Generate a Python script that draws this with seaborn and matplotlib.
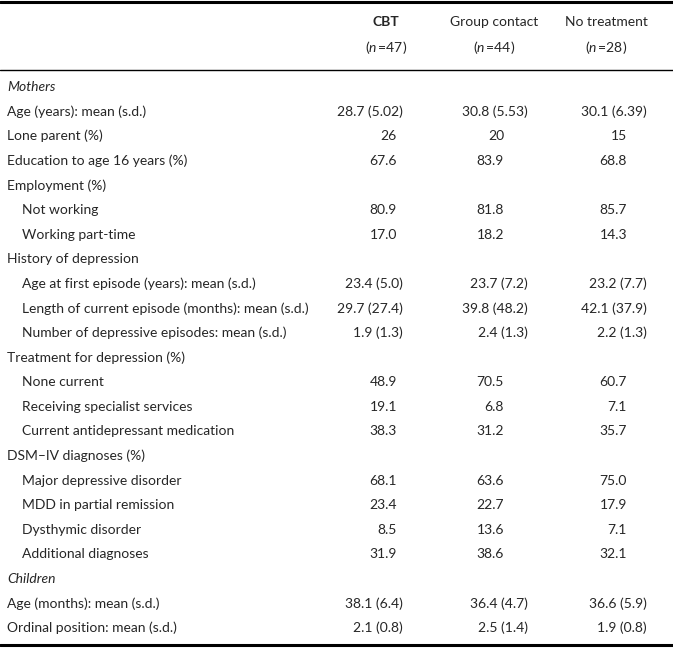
import matplotlib
matplotlib.use("Agg")
import matplotlib.pyplot as plt
import seaborn as sns

# table content
groups = ["CBT", "Group contact", "No treatment"]
group_n = ["47", "44", "28"]

row_labels = [
    "Mothers",
    "Age (years): mean (s.d.)",
    "Lone parent (%)",
    "Education to age 16 years (%)",
    "Employment (%)",
    "Not working",
    "Working part-time",
    "History of depression",
    "Age at first episode (years): mean (s.d.)",
    "Length of current episode (months): mean (s.d.)",
    "Number of depressive episodes: mean (s.d.)",
    "Treatment for depression (%)",
    "None current",
    "Receiving specialist services",
    "Current antidepressant medication",
    "DSM\u2013IV diagnoses (%)",
    "Major depressive disorder",
    "MDD in partial remission",
    "Dysthymic disorder",
    "Additional diagnoses",
    "Children",
    "Age (months): mean (s.d.)",
    "Ordinal position: mean (s.d.)",
]
# s = italic section, t = top-level row, i = indented row
row_kind = ["s", "t", "t", "t", "t", "i", "i", "t", "i", "i", "i", "t",
            "i", "i", "i", "t", "i", "i", "i", "i", "s", "t", "t"]

cbt = ["", "28.7 (5.02)", "26", "67.6", "", "80.9", "17.0", "",
       "23.4 (5.0)", "29.7 (27.4)", "1.9 (1.3)", "", "48.9", "19.1", "38.3",
       "", "68.1", "23.4", "8.5", "31.9", "", "38.1 (6.4)", "2.1 (0.8)"]
group_contact = ["", "30.8 (5.53)", "20", "83.9", "", "81.8", "18.2", "",
                 "23.7 (7.2)", "39.8 (48.2)", "2.4 (1.3)", "", "70.5", "6.8", "31.2",
                 "", "63.6", "22.7", "13.6", "38.6", "", "36.4 (4.7)", "2.5 (1.4)"]
no_treatment = ["", "30.1 (6.39)", "15", "68.8", "", "85.7", "14.3", "",
                "23.2 (7.7)", "42.1 (37.9)", "2.2 (1.3)", "", "60.7", "7.1", "35.7",
                "", "75.0", "17.9", "7.1", "32.1", "", "36.6 (5.9)", "1.9 (0.8)"]

sns.set_theme(style="white")
plt.rcParams["font.family"] = ["Lato", "DejaVu Sans"]
plt.rcParams["mathtext.fontset"] = "custom"
plt.rcParams["mathtext.it"] = "Lato:italic"
plt.rcParams["mathtext.rm"] = "Lato"

W, H = 673, 659
fig = plt.figure(figsize=(W / 100, H / 100), dpi=100)
ax = fig.add_axes([0, 0, 1, 1])
ax.set_xlim(0, W)
ax.set_ylim(H, 0)
ax.axis("off")

fs = 10
col_center = [386, 494, 606]
col_single = [397, 504, 627]
col_msd = [403, 528, 647]

# header
for k, (g, n) in enumerate(zip(groups, group_n)):
    ax.text(col_center[k], 22, g, ha="center", va="center", fontsize=fs,
            fontweight="bold" if k == 0 else "normal")
    ax.text(col_center[k], 47, r"($\mathit{n}\,$=" + n + ")",
            ha="center", va="center", fontsize=fs)

ax.axhline(1.5, color="black", lw=2.2)
ax.axhline(70, color="black", lw=1.0)
ax.axhline(645, color="black", lw=2.2)

y0, dy = 87, 24.6
for r, label in enumerate(row_labels):
    y = y0 + r * dy
    kind = row_kind[r]
    x = 22 if kind == "i" else 7
    ax.text(x, y, label, ha="left", va="center", fontsize=fs,
            style="italic" if kind == "s" else "normal")
    for k, vals in enumerate([cbt, group_contact, no_treatment]):
        v = vals[r]
        if not v:
            continue
        xr = col_msd[k] if "(" in v else col_single[k]
        ax.text(xr, y, v, ha="right", va="center", fontsize=fs)

fig.savefig("out.png", dpi=100)
